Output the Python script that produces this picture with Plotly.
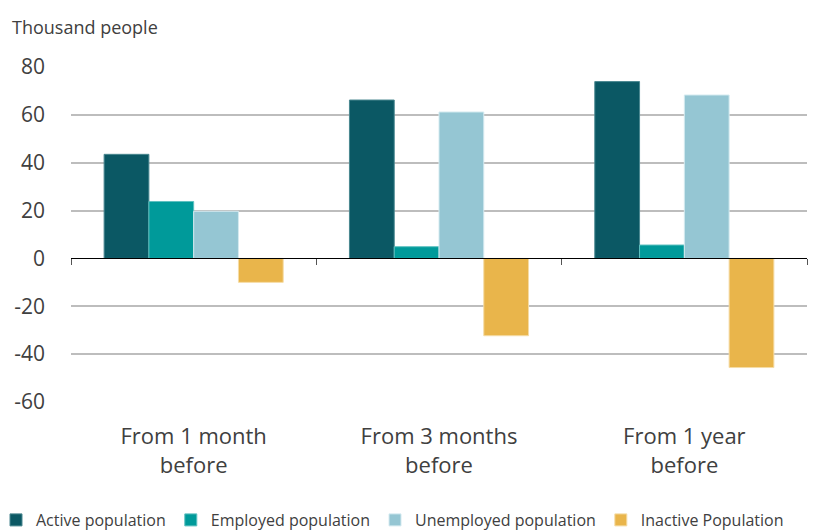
import plotly.graph_objects as go

categories = ["From 1 month<br>before", "From 3 months<br>before", "From 1 year<br>before"]
series_names = ["Active population", "Employed population", "Unemployed population", "Inactive Population"]
active = [43.5, 66.2, 73.9]
employed = [23.8, 4.9, 5.6]
unemployed = [19.7, 61.2, 68.3]
inactive = [-10.0, -32.3, -45.6]
colors = ["#0b5864", "#009a9a", "#95c6d3", "#e9b54b"]
line_colors = ["#4a8790", "#5ec0c0", "#d4eaf0", "#f5dca6"]
y_ticks = [-60, -40, -20, 0, 20, 40, 60, 80]
y_ticktext = ["-60", "-40", "-20", "0", "20", "40", "60", "80"]

FONT = "Open Sans"
TXT = "#404040"

fig = go.Figure()
for name, vals, c, lc in zip(series_names, [active, employed, unemployed, inactive], colors, line_colors):
    fig.add_trace(go.Bar(x=categories, y=vals, name=name, marker=dict(color=c, line=dict(color=lc, width=1)),
                         hoverinfo="y+name"))

# invisible trace on the overlay axis that draws the zero-line tick marks
fig.add_trace(go.Scatter(x=categories, y=[0, 0, 0], xaxis="x2", mode="markers",
                         marker=dict(opacity=0), showlegend=False, hoverinfo="skip"))

fig.update_layout(
    width=826, height=532,
    margin=dict(l=71, r=19, t=67, b=130, autoexpand=False),
    paper_bgcolor="white", plot_bgcolor="white",
    font=dict(family=FONT, color=TXT),
    barmode="group", bargap=0.27, bargroupgap=0,
    title=dict(text="Thousand people", x=12/826, xanchor="left", xref="container",
               y=1-28/532, yanchor="middle", yref="container",
               font=dict(size=18, family=FONT, color=TXT)),
    xaxis=dict(type="category", tickfont=dict(size=22, family=FONT, color=TXT),
               showgrid=False, showline=False, ticks="", range=[-0.5, 2.5],
               ticklabelstandoff=19, automargin=False),
    xaxis2=dict(type="category", overlaying="x", anchor="free", position=60/140,
                range=[-0.5, 2.5], showticklabels=False, showgrid=False,
                showline=True, linecolor="#000000", linewidth=1, automargin=False,
                ticks="outside", tickson="boundaries", ticklen=6, tickcolor="#555555", tickwidth=1),
    yaxis=dict(range=[-60, 80], tickvals=y_ticks, ticktext=y_ticktext,
               showgrid=True, gridcolor="#bdbdbd", gridwidth=1.5,
               zeroline=True, zerolinecolor="#000000", zerolinewidth=1,
               tickfont=dict(size=21, family=FONT, color=TXT), ticklabelstandoff=25,
               showline=False, ticks="", automargin=False),
    legend=dict(orientation="h", x=(-4-71)/736, xanchor="left", y=-(503-402)/335, yanchor="top",
                font=dict(size=16, family=FONT, color=TXT), itemwidth=30,
                traceorder="normal", tracegroupgap=0, bgcolor="rgba(0,0,0,0)"),
)

fig.write_html("out.html", config={"displayModeBar": False},
               post_script="document.body.style.margin='0';document.body.style.padding='0';")
